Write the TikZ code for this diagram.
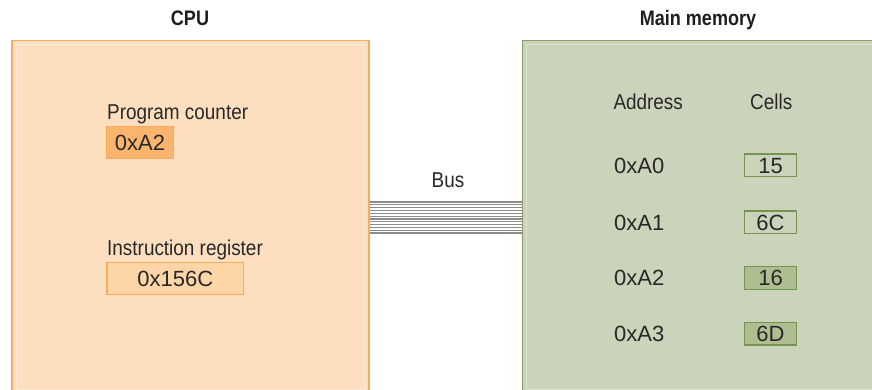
\documentclass[tikz,border=0pt]{standalone}
\usepackage{fontspec}
\setmainfont{Liberation Sans}
\newfontfamily\condf{Liberation Sans}[FakeStretch=0.88]
\newfontfamily\titlef{Liberation Sans}[FakeStretch=0.86]
\newfontfamily\hexf{Liberation Sans}
\definecolor{txt}{RGB}{40,40,40}
\definecolor{titletxt}{RGB}{30,30,30}
\definecolor{cpufill}{RGB}{253,223,192}
\definecolor{cpuborder}{RGB}{247,171,94}
\definecolor{cpuinner}{RGB}{254,234,214}
\definecolor{pcfill}{RGB}{250,180,110}
\definecolor{irfill}{RGB}{253,214,168}
\definecolor{memfill}{RGB}{203,211,186}
\definecolor{memborder}{RGB}{138,158,106}
\definecolor{meminner}{RGB}{220,226,208}
\definecolor{cellborder}{RGB}{118,148,80}
\definecolor{cellhi}{RGB}{175,190,145}
\definecolor{busgray}{RGB}{140,140,140}
\tikzset{
  lbl/.style={anchor=base west, inner sep=0pt, text=txt, font=\condf\fontsize{21.5}{24}\selectfont},
  hexlbl/.style={anchor=base west, inner sep=0pt, text=txt, font=\hexf\fontsize{22}{24}\selectfont},
  ttl/.style={anchor=base, inner sep=0pt, text=titletxt, font=\titlef\bfseries\fontsize{21}{24}\selectfont},
  buslbl/.style={anchor=base, inner sep=0pt, text=txt, font=\condf\fontsize{21.5}{24}\selectfont},
  bigbox/.style={draw, line width=1.5pt, inner sep=0pt},
  reg/.style={draw=cpuborder, line width=1.2pt, inner sep=0pt, text=txt,
    font=\hexf\fontsize{22}{24}\selectfont, text height=15.8pt, text depth=0pt},
  cell/.style={draw=cellborder, line width=1.3pt, inner sep=0pt, text=txt,
    minimum width=52.4pt, minimum height=22.7pt,
    font=\hexf\fontsize{22}{24}\selectfont, text height=15.8pt, text depth=0pt},
  busline/.style={draw=busgray, line width=1.2pt}
}
\begin{document}
\begin{tikzpicture}[x=1pt,y=-1pt]
\useasboundingbox (0,0) rectangle (872,390);
\clip (0,0) rectangle (872,390);

% titles
\node[ttl] (cputitle) at (190,25.3) {CPU};
\node[ttl] (memtitle) at (698,25.3) {Main memory};

% CPU box
\node[bigbox, draw=cpuborder, fill=cpufill, minimum width=357pt, minimum height=353pt] (cpu) at (190.5,217) {};
\draw[cpuinner, line width=1pt] ([shift={(5,5)}]cpu.north west) rectangle ([shift={(-5,-5)}]cpu.south east);

% Memory box
\node[bigbox, draw=memborder, fill=memfill, minimum width=362.5pt, minimum height=353pt] (mem) at (703.75,217) {};
\draw[meminner, line width=1pt] ([shift={(5,5)}]mem.north west) rectangle ([shift={(-5,-5)}]mem.south east);

% CPU contents
\node[lbl] (pclbl) at (107,119.3) {Program counter};
\node[reg, fill=pcfill, minimum width=66.6pt, minimum height=32pt] (pc) at (140,142.7) {0xA2};
\node[lbl] (irlbl) at (107,255) {Instruction register};
\node[reg, fill=irfill, minimum width=136.6pt, minimum height=32.4pt] (ir) at (175.3,278.5) {0x156C};

% Bus
\node[buslbl] (buslabel) at (448,187) {Bus};
\foreach \i in {0,...,11}{
  \pgfmathsetmacro{\yy}{202+\i*2.82}
  \draw[busline] (cpu.east |- 0,\yy) -- (mem.west |- 0,\yy);
}

% Memory contents
\node[lbl] (addrhd) at (613.3,110) {Address};
\node[lbl] (cellhd) at (750,110) {Cells};

\node[hexlbl] (a0) at (614,173.3) {0xA0};
\node[cell, fill=memfill] (c0) at (770.5,165.3) {15};
\node[hexlbl] (a1) at (614,230) {0xA1};
\node[cell, fill=memfill] (c1) at (770.5,222.3) {6C};
\node[hexlbl] (a2) at (614,285.7) {0xA2};
\node[cell, fill=cellhi] (c2) at (770.5,278) {16};
\node[hexlbl] (a3) at (614,341.7) {0xA3};
\node[cell, fill=cellhi] (c3) at (770.5,333.7) {6D};
\end{tikzpicture}
\end{document}
